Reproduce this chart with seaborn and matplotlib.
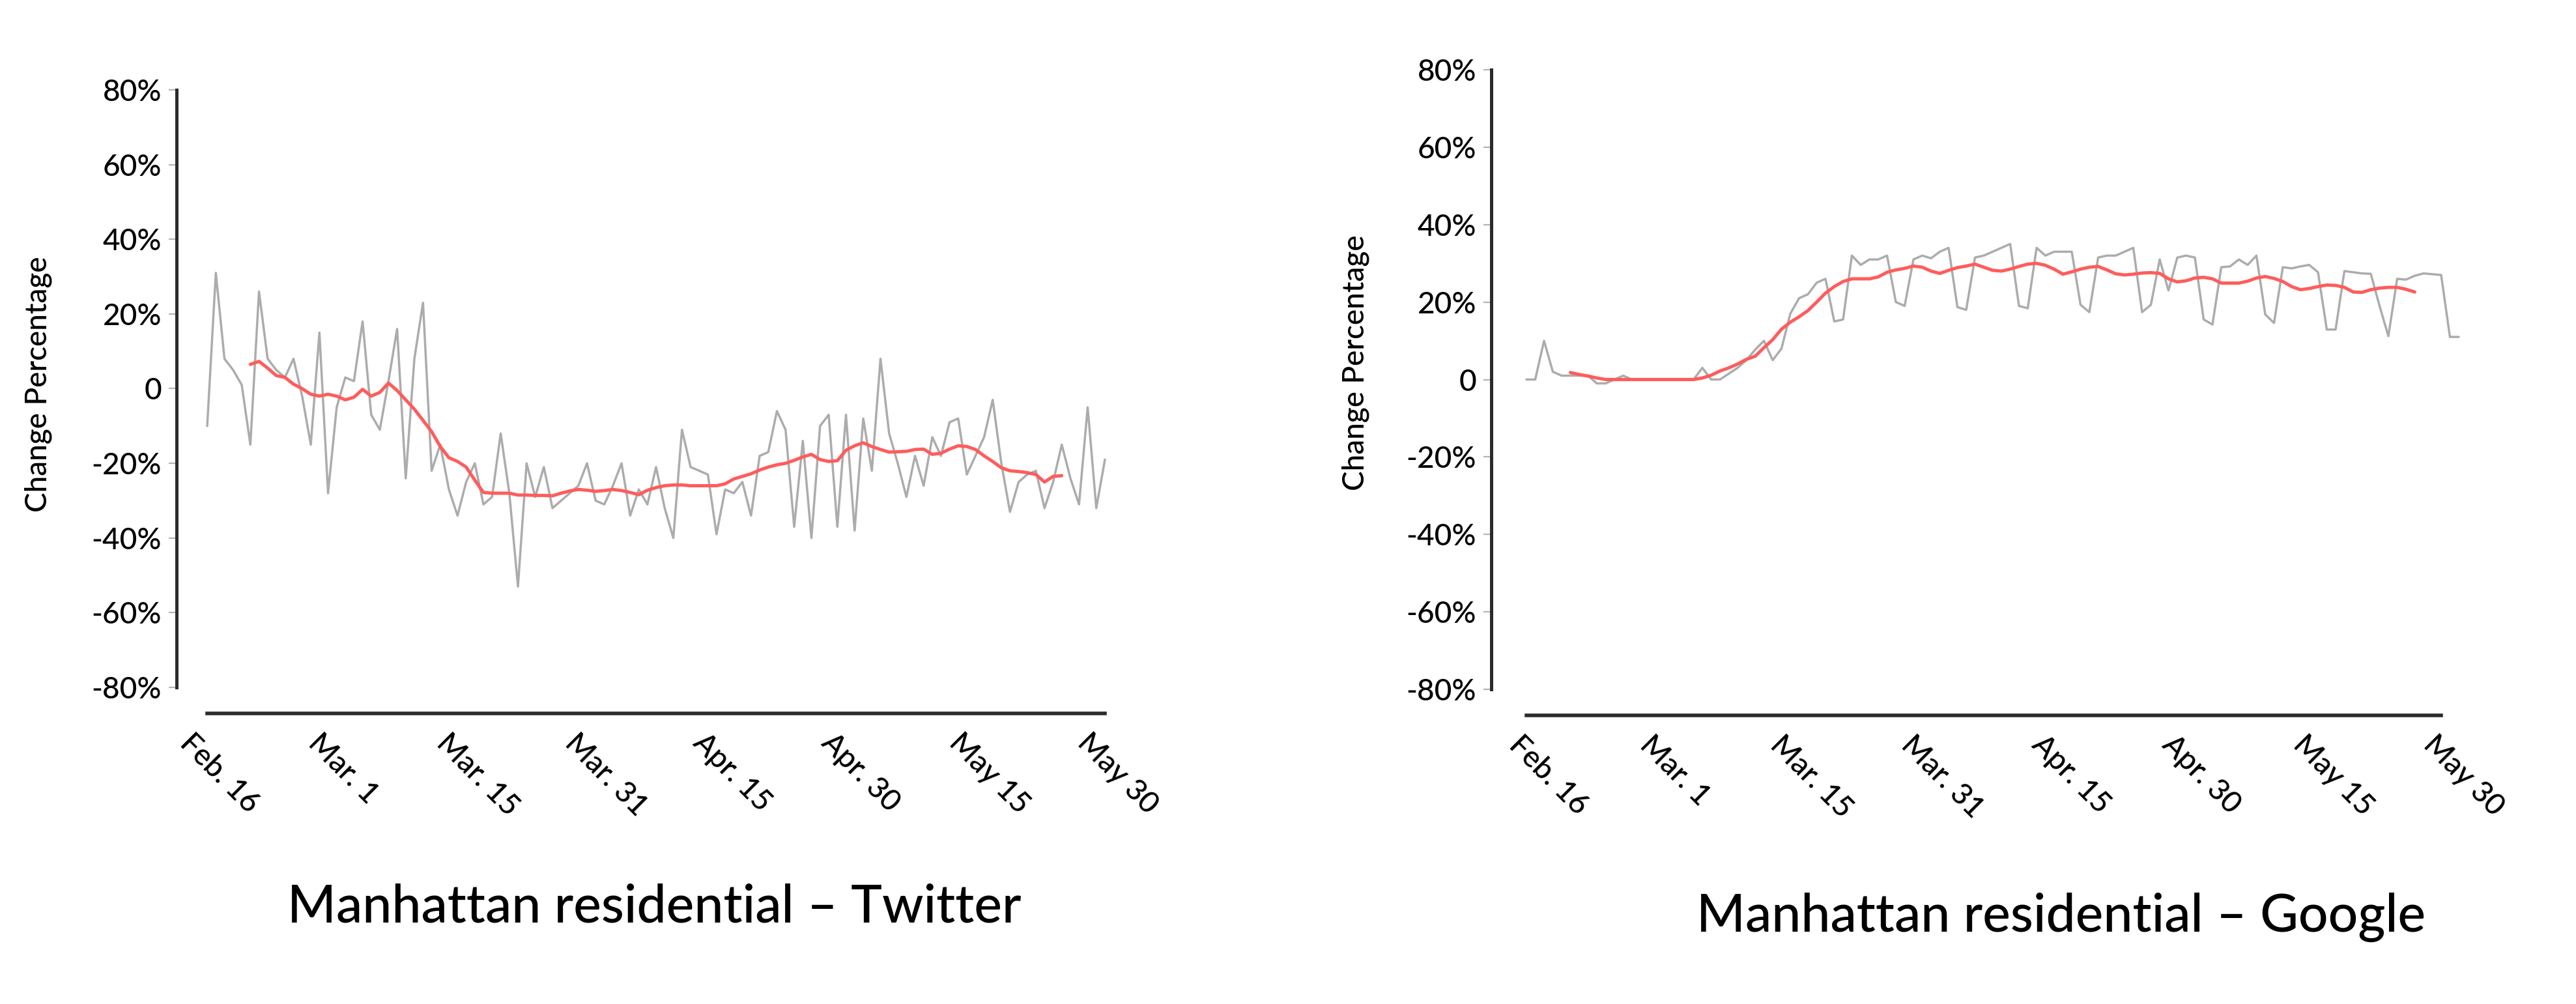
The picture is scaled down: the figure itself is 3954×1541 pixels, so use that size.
import numpy as np
import pandas as pd
import matplotlib
matplotlib.use("Agg")
import matplotlib.pyplot as plt
from matplotlib.transforms import ScaledTranslation
import seaborn as sns

# ---------------- data ----------------
tick_labels = ["Feb. 16", "Mar. 1", "Mar. 15", "Mar. 31", "Apr. 15", "Apr. 30", "May 15", "May 30"]
y_ticks = [-80, -60, -40, -20, 0, 20, 40, 60, 80]
y_tick_labels = ["-80%", "-60%", "-40%", "-20%", "0", "20%", "40%", "60%", "80%"]

# Twitter daily change (%) from Feb. 16 (day 0)
twitter_daily = [
    -10, 31, 8, 5, 1, -15, 26, 8, 5, 3,
    8, -2, -15, 15, -28, -5, 3, 2, 18, -7,
    -11, 2, 16, -24, 8, 23, -22, -15, -27, -34,
    -25, -20, -31, -29, -12, -28, -53, -20, -29, -21,
    -32, -30, -28, -26, -20, -30, -31, -26, -20, -34,
    -27, -31, -21, -32, -40, -11, -21, -22, -23, -39,
    -27, -28, -25, -34, -18, -17, -6, -11, -37, -14,
    -40, -10, -7, -37, -7, -38, -8, -22, 8, -12,
    -20, -29, -18, -26, -13, -18, -9, -8, -23, -18,
    -13, -3, -20, -33, -25, -23, -22, -32, -25, -15,
    -24, -31, -5, -32, -19,
]
# Twitter moving average, days 5..99
twitter_avg_start = 5
twitter_avg = [
    6.5, 7.3, 5.5, 3.5, 3.0, 1.2, 0.0, -1.5, -2.0, -1.5,
    -2.0, -3.0, -2.3, -0.2, -2.0, -1.0, 1.5, -0.5, -3.0, -5.5,
    -8.5, -11.5, -15.5, -18.5, -19.5, -21.0, -24.5, -27.8, -28.0, -28.0,
    -28.0, -28.5, -28.5, -28.6, -28.6, -28.7, -28.0, -27.4, -27.0, -27.2,
    -27.5, -27.3, -27.0, -27.3, -27.8, -28.4, -27.2, -26.5, -26.0, -25.8,
    -25.8, -26.0, -26.0, -26.0, -26.0, -25.5, -24.2, -23.5, -22.8, -21.8,
    -21.0, -20.4, -20.0, -19.2, -18.3, -17.6, -19.0, -19.5, -19.3, -16.5,
    -15.3, -14.5, -15.5, -16.3, -17.0, -16.9, -16.8, -16.3, -16.2, -17.6,
    -17.3, -16.2, -15.3, -15.5, -16.3, -18.0, -19.5, -21.2, -22.0, -22.2,
    -22.5, -23.0, -25.0, -23.5, -23.3,
]

# Google daily change (%) from Feb. 16 (day 0)
google_daily = [
    0, 0, 10, 2, 1, 1, 1, 1, -1, -1,
    0, 1, 0, 0, 0, 0, 0, 0, 0, 0,
    3, 0, 0, 1.5, 3, 5, 7.7, 10, 5, 8,
    17, 21, 22, 25, 26, 15, 15.5, 32, 29.6, 31,
    31, 32, 20, 19, 31, 32, 31.3, 33, 34, 18.7,
    18, 31.5, 32, 33, 34, 35, 19, 18.4, 34, 32,
    33, 33, 33, 19.3, 17.4, 31.5, 32, 32, 33, 34,
    17.4, 19.3, 31, 23, 31.5, 32, 31.5, 15.5, 14.2, 29,
    29.2, 31, 29.6, 32, 16.8, 14.6, 29, 28.7, 29.2, 29.6,
    27.7, 12.9, 12.9, 28, 27.7, 27.4, 27.3, 19, 11.2, 26,
    25.8, 26.8, 27.4, 27.2, 27, 11, 11,
]
# Google moving average, days 5..101
google_avg_start = 5
google_avg = [
    1.8, 1.3, 0.9, 0.4, 0.0, 0.0, 0.0, 0.0, 0.0, 0.0,
    0.0, 0.0, 0.0, 0.0, 0.0, 0.4, 1.1, 2.2, 3.0, 4.0,
    5.2, 6.0, 8.2, 10.3, 13.0, 14.8, 16.2, 17.8, 20.0, 22.3,
    24.0, 25.3, 26.0, 26.0, 26.0, 26.5, 27.7, 28.3, 28.7, 29.3,
    29.0, 28.0, 27.4, 28.2, 28.9, 29.3, 29.8, 29.0, 28.2, 28.0,
    28.5, 29.2, 29.8, 30.0, 29.5, 28.5, 27.2, 27.8, 28.5, 29.0,
    29.2, 28.3, 27.3, 27.0, 27.2, 27.5, 27.6, 27.4, 26.0, 25.2,
    25.5, 26.2, 26.4, 26.0, 24.9, 24.9, 24.9, 25.4, 26.2, 26.6,
    26.1, 25.3, 24.0, 23.2, 23.5, 24.0, 24.4, 24.3, 23.8, 22.6,
    22.5, 23.2, 23.6, 23.8, 23.8, 23.3, 22.6,
]

titles = ["Manhattan residential \u2013 Twitter", "Manhattan residential \u2013 Google"]
ylabel = "Change Percentage"

# ---------------- style ----------------
sns.set_theme(style="white")
plt.rcParams["font.family"] = ["Lato", "DejaVu Sans"]
plt.rcParams["font.weight"] = "medium"

W, H, DPI = 3954, 1541, 100
fig = plt.figure(figsize=(W / DPI, H / DPI), dpi=DPI)
fig.patch.set_facecolor("white")

GRAY = "#acacac"
RED = "#ff5c5c"
SPINE = "#2b2b2b"


def make_df(values, start):
    return pd.DataFrame({"day": np.arange(start, start + len(values)), "value": values})


panels = [
    dict(rect=(271, 138, 1696, 1055), xmin=-3.55, daily=twitter_daily, avg=twitter_avg,
         avg_start=twitter_avg_start, title=titles[0], title_xy=(1004, 1415),
         ylabel_xy=(72, 590), label_dx=-20),
    dict(rect=(2289, 107, 3747, 1058), xmin=-4.0, daily=google_daily, avg=google_avg,
         avg_start=google_avg_start, title=titles[1], title_xy=(3164, 1430),
         ylabel_xy=(2094, 557), label_dx=-5),
]

for p in panels:
    x0, y0, x1, y1 = p["rect"]
    ax = fig.add_axes([x0 / W, 1 - y1 / H, (x1 - x0) / W, (y1 - y0) / H])
    ax.set_facecolor("none")

    d_daily = make_df(p["daily"], 0)
    d_avg = make_df(p["avg"], p["avg_start"])
    sns.lineplot(data=d_daily, x="day", y="value", ax=ax, color=GRAY, linewidth=2.5,
                 clip_on=False)
    sns.lineplot(data=d_avg, x="day", y="value", ax=ax, color=RED, linewidth=3.6,
                 clip_on=False)

    ax.set_xlim(p["xmin"], 104)
    ax.set_ylim(-80, 80)
    ax.set_xlabel("")
    ax.set_ylabel("")

    for s in ["top", "right"]:
        ax.spines[s].set_visible(False)
    ax.spines["left"].set_bounds(-80, 80)
    ax.spines["left"].set_color(SPINE)
    ax.spines["left"].set_linewidth(3.6)
    ax.spines["bottom"].set_position(("outward", 28.8))
    ax.spines["bottom"].set_bounds(0, 104)
    ax.spines["bottom"].set_color(SPINE)
    ax.spines["bottom"].set_linewidth(4.0)

    ax.set_yticks(y_ticks)
    ax.set_yticklabels(y_tick_labels)
    ax.tick_params(axis="y", left=True, length=8.5, width=1.6, color="#b5b5b5",
                   pad=8, labelsize=33, labelcolor="black")

    ax.set_xticks(np.linspace(0, 104, len(tick_labels)))
    ax.set_xticklabels(tick_labels, rotation=-45, ha="left", va="top",
                       rotation_mode="anchor")
    ax.tick_params(axis="x", bottom=True, length=0, pad=17, labelsize=33,
                   labelcolor="black")
    off = ScaledTranslation(p["label_dx"] / DPI, 0, fig.dpi_scale_trans)
    for lbl in ax.get_xticklabels():
        lbl.set_transform(lbl.get_transform() + off)

    tx, ty = p["title_xy"]
    fig.text(tx / W, 1 - ty / H, p["title"], ha="center", va="baseline",
             fontsize=58, color="black")
    lx, ly = p["ylabel_xy"]
    fig.text(lx / W, 1 - ly / H, ylabel, rotation=90, rotation_mode="anchor",
             ha="center", va="baseline", fontsize=33, color="black")

fig.savefig("out.png", dpi=DPI, facecolor="white")
